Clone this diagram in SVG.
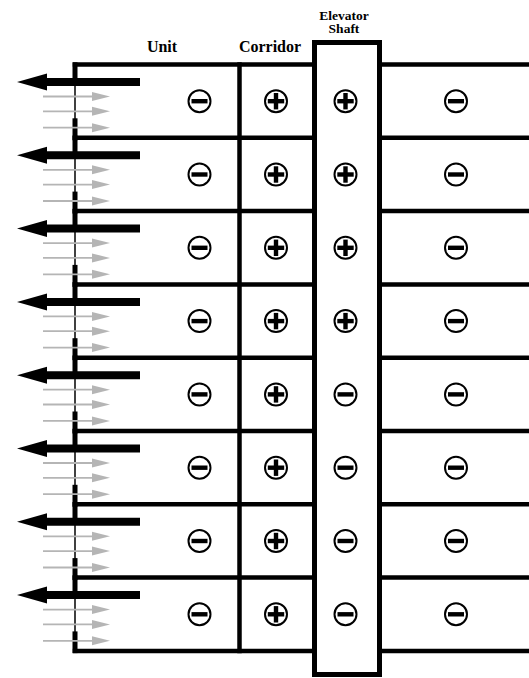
<svg xmlns="http://www.w3.org/2000/svg" xmlns:xlink="http://www.w3.org/1999/xlink" width="529" height="678" viewBox="0 0 529 678">
<style>
.wall{stroke:#000;stroke-width:4.5;fill:none;stroke-linecap:square}
.thin{stroke:#000;stroke-width:1.5;fill:none}
.lbl{font-family:'Liberation Serif','DejaVu Serif',serif;font-weight:bold;fill:#000;text-anchor:middle}
.sym{fill:#fff;stroke:#000;stroke-width:2}
.gline{stroke:#b5b5b5;stroke-width:1.8}
.ghead{fill:#b5b5b5}
</style>
<defs>
<g id="minus"><circle class="sym" r="11"/><rect x="-8" y="-2.2" width="16" height="4.4" fill="#000"/></g>
<g id="plus"><circle class="sym" r="11"/><rect x="-8.2" y="-2.2" width="16.4" height="4.4" fill="#000"/><rect x="-2.2" y="-8.2" width="4.4" height="16.4" fill="#000"/></g>
<path id="barrow" d="M17,0 L47,-8.5 L47,-4 L140,-4 L140,4 L47,4 L47,8.5 Z" fill="#000"/>
<g id="garrow"><line class="gline" x1="43" y1="0" x2="94" y2="0"/><path class="ghead" d="M110,0 L92,-4.5 L92,4.5 Z"/></g>
</defs>
<rect width="529" height="678" fill="#fff"/>

<g id="labels">
<text class="lbl" x="162" y="52" font-size="16">Unit</text>
<text class="lbl" x="270" y="52" font-size="16">Corridor</text>
<text class="lbl" x="344" y="19.5" font-size="13.5">Elevator</text>
<text class="lbl" x="344" y="33" font-size="13.5">Shaft</text>
</g>

<g id="building">
<line class="thin" x1="75" y1="64.5" x2="75" y2="650.9"/>
<g id="walls" class="wall">
<line x1="75" y1="64.5" x2="314.5" y2="64.5"/><line x1="379.5" y1="64.5" x2="531" y2="64.5"/>
<line x1="75" y1="137.8" x2="314.5" y2="137.8"/><line x1="379.5" y1="137.8" x2="531" y2="137.8"/>
<line x1="75" y1="211.1" x2="314.5" y2="211.1"/><line x1="379.5" y1="211.1" x2="531" y2="211.1"/>
<line x1="75" y1="284.4" x2="314.5" y2="284.4"/><line x1="379.5" y1="284.4" x2="531" y2="284.4"/>
<line x1="75" y1="357.7" x2="314.5" y2="357.7"/><line x1="379.5" y1="357.7" x2="531" y2="357.7"/>
<line x1="75" y1="431" x2="314.5" y2="431"/><line x1="379.5" y1="431" x2="531" y2="431"/>
<line x1="75" y1="504.3" x2="314.5" y2="504.3"/><line x1="379.5" y1="504.3" x2="531" y2="504.3"/>
<line x1="75" y1="577.6" x2="314.5" y2="577.6"/><line x1="379.5" y1="577.6" x2="531" y2="577.6"/>
<line x1="75" y1="650.9" x2="314.5" y2="650.9"/><line x1="379.5" y1="650.9" x2="531" y2="650.9"/>
<line x1="239.5" y1="64.5" x2="239.5" y2="650.9"/>
</g>
<g id="leftwall" fill="#000">
<rect x="72.5" y="62.3" width="5" height="20"/><rect x="72.5" y="118.3" width="5" height="22"/>
<rect x="72.5" y="135.6" width="5" height="20"/><rect x="72.5" y="191.6" width="5" height="22"/>
<rect x="72.5" y="208.9" width="5" height="20"/><rect x="72.5" y="264.9" width="5" height="22"/>
<rect x="72.5" y="282.2" width="5" height="20"/><rect x="72.5" y="338.2" width="5" height="22"/>
<rect x="72.5" y="355.5" width="5" height="20"/><rect x="72.5" y="411.5" width="5" height="22"/>
<rect x="72.5" y="428.8" width="5" height="20"/><rect x="72.5" y="484.8" width="5" height="22"/>
<rect x="72.5" y="502.1" width="5" height="20"/><rect x="72.5" y="558.1" width="5" height="22"/>
<rect x="72.5" y="575.4" width="5" height="20"/><rect x="72.5" y="631.4" width="5" height="21.7"/>
</g>
</g>

<g id="shaft">
<rect x="314.5" y="42.5" width="65" height="632" fill="#fff" stroke="#000" stroke-width="5"/>
</g>

<g id="connectors">
<use xlink:href="#barrow" href="#barrow" y="82"/>
<use xlink:href="#barrow" href="#barrow" y="155.3"/>
<use xlink:href="#barrow" href="#barrow" y="228.6"/>
<use xlink:href="#barrow" href="#barrow" y="301.9"/>
<use xlink:href="#barrow" href="#barrow" y="375.2"/>
<use xlink:href="#barrow" href="#barrow" y="448.5"/>
<use xlink:href="#barrow" href="#barrow" y="521.8"/>
<use xlink:href="#barrow" href="#barrow" y="595.1"/>
<use href="#garrow" y="96.5"/><use href="#garrow" y="111.3"/><use href="#garrow" y="127.7"/>
<use href="#garrow" y="169.8"/><use href="#garrow" y="184.6"/><use href="#garrow" y="201"/>
<use href="#garrow" y="243.1"/><use href="#garrow" y="257.9"/><use href="#garrow" y="274.3"/>
<use href="#garrow" y="316.4"/><use href="#garrow" y="331.2"/><use href="#garrow" y="347.6"/>
<use href="#garrow" y="389.7"/><use href="#garrow" y="404.5"/><use href="#garrow" y="420.9"/>
<use href="#garrow" y="463"/><use href="#garrow" y="477.8"/><use href="#garrow" y="494.2"/>
<use href="#garrow" y="536.3"/><use href="#garrow" y="551.1"/><use href="#garrow" y="567.5"/>
<use href="#garrow" y="609.6"/><use href="#garrow" y="624.4"/><use href="#garrow" y="640.8"/>
</g>

<g id="row1"><use href="#minus" x="199.5" y="101.2"/><use href="#plus" x="276" y="101.2"/><use href="#plus" x="345.5" y="101.2"/><use href="#minus" x="456" y="101.2"/></g>
<g id="row2"><use href="#minus" x="199.5" y="174.5"/><use href="#plus" x="276" y="174.5"/><use href="#plus" x="345.5" y="174.5"/><use href="#minus" x="456" y="174.5"/></g>
<g id="row3"><use href="#minus" x="199.5" y="247.8"/><use href="#plus" x="276" y="247.8"/><use href="#plus" x="345.5" y="247.8"/><use href="#minus" x="456" y="247.8"/></g>
<g id="row4"><use href="#minus" x="199.5" y="321.1"/><use href="#plus" x="276" y="321.1"/><use href="#plus" x="345.5" y="321.1"/><use href="#minus" x="456" y="321.1"/></g>
<g id="row5"><use href="#minus" x="199.5" y="394.4"/><use href="#plus" x="276" y="394.4"/><use href="#minus" x="345.5" y="394.4"/><use href="#minus" x="456" y="394.4"/></g>
<g id="row6"><use href="#minus" x="199.5" y="467.7"/><use href="#plus" x="276" y="467.7"/><use href="#minus" x="345.5" y="467.7"/><use href="#minus" x="456" y="467.7"/></g>
<g id="row7"><use href="#minus" x="199.5" y="541"/><use href="#plus" x="276" y="541"/><use href="#minus" x="345.5" y="541"/><use href="#minus" x="456" y="541"/></g>
<g id="row8"><use href="#minus" x="199.5" y="614.3"/><use href="#plus" x="276" y="614.3"/><use href="#minus" x="345.5" y="614.3"/><use href="#minus" x="456" y="614.3"/></g>
</svg>
